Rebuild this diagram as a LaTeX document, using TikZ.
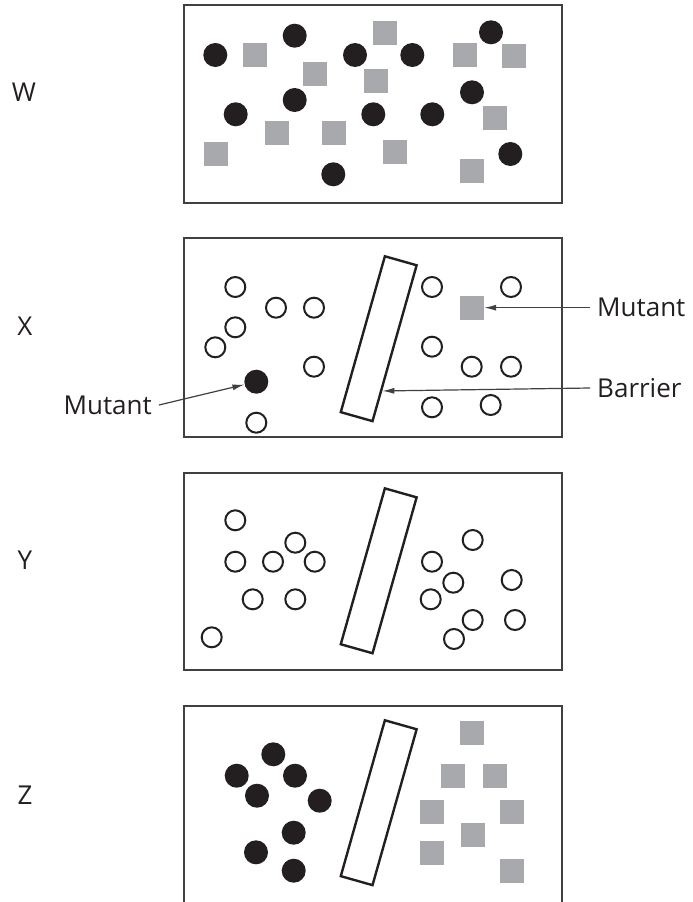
\documentclass[tikz,border=0pt]{standalone}
\usepackage{fontspec}
\setmainfont{Open Sans}
\usetikzlibrary{arrows.meta,calc}
\definecolor{ink}{HTML}{231F20}
\definecolor{tilegrey}{HTML}{A7A9AC}
\definecolor{edgegrey}{HTML}{404040}

\begin{document}
\begin{tikzpicture}[x=1pt,y=-1pt,
  panel/.style={draw=edgegrey, line width=1.4pt},
  blob/.style={circle, fill=ink, minimum size=24pt, inner sep=0pt},
  ring/.style={circle, draw=ink, line width=2pt, minimum size=20pt, inner sep=0pt},
  tile/.style={rectangle, fill=tilegrey, minimum size=24pt, inner sep=0pt},
  wall/.style={rectangle, draw=ink, line width=2.4pt, minimum width=33pt, minimum height=162pt, inner sep=0pt, rotate=-15.8},
  tag/.style={font=\fontsize{26}{30}\selectfont, text=ink, inner xsep=7pt, inner ysep=0pt},
  pointer/.style={draw=edgegrey, line width=1.2pt, -{Latex[length=12pt,width=6pt]}}]
\clip (0,0) rectangle (693,902);

\node[tag] (lW) at (24,92) {W};
\node[tag] (lX) at (25,326) {X};
\node[tag] (lY) at (25,560) {Y};
\node[tag] (lZ) at (25,795) {Z};

% W
\draw[panel] (184,5) rectangle (562,203);
\node[blob] (bW1) at (215.3,55) {};
\node[blob] (bW2) at (294.7,35.7) {};
\node[blob] (bW3) at (355,55) {};
\node[blob] (bW4) at (412.3,55) {};
\node[blob] (bW5) at (491,32.3) {};
\node[blob] (bW6) at (235.7,114.3) {};
\node[blob] (bW7) at (294.7,100) {};
\node[blob] (bW8) at (373.3,114.3) {};
\node[blob] (bW9) at (432.3,114.3) {};
\node[blob] (bW10) at (472,92.3) {};
\node[blob] (bW11) at (510.3,154) {};
\node[blob] (bW12) at (333.3,174.3) {};
\node[tile] (sW1) at (255,55) {};
\node[tile] (sW2) at (385,32.7) {};
\node[tile] (sW3) at (315,74) {};
\node[tile] (sW4) at (376,81) {};
\node[tile] (sW5) at (465,55) {};
\node[tile] (sW6) at (514,56) {};
\node[tile] (sW7) at (277,133) {};
\node[tile] (sW8) at (334,133) {};
\node[tile] (sW9) at (216,154) {};
\node[tile] (sW10) at (395,152) {};
\node[tile] (sW11) at (495,118) {};
\node[tile] (sW12) at (472,171) {};

% X
\draw[panel] (184,238) rectangle (562,437);
\node[ring] (rX1) at (235.3,287) {};
\node[ring] (rX2) at (276,307.7) {};
\node[ring] (rX3) at (314,307.7) {};
\node[ring] (rX4) at (235.3,327.3) {};
\node[ring] (rX5) at (215.3,347.3) {};
\node[ring] (rX6) at (314,366.7) {};
\node[ring] (rX7) at (256.3,422.7) {};
\node[ring] (rX8) at (432,287) {};
\node[ring] (rX9) at (511,287) {};
\node[ring] (rX10) at (432,346.7) {};
\node[ring] (rX11) at (471.7,366.7) {};
\node[ring] (rX12) at (511,366.7) {};
\node[ring] (rX13) at (432,407.3) {};
\node[ring] (rX14) at (490.7,405) {};
\node[blob] (bX) at (256.3,381.7) {};
\node[tile] (sX) at (472,307.7) {};
\node[wall] (barX) at (378.7,338.7) {};
\coordinate (barTip) at ($(barX.south east)!0.2!(barX.north east)$);
\node[tag, anchor=west] (mutR) at (590,307.7) {Mutant};
\node[tag, anchor=west] (barL) at (590,388) {Barrier};
\node[tag, anchor=east] (mutL) at (159,405) {Mutant};
\draw[pointer] (mutR.west) -- (sX);
\draw[pointer] (barL.west) -- (barTip);
\draw[pointer] (mutL.east) -- (bX);

% Y
\draw[panel] (184,473) rectangle (562,670);
\node[ring] (rY1) at (235.3,520.3) {};
\node[ring] (rY2) at (235.3,561.7) {};
\node[ring] (rY3) at (273,561.7) {};
\node[ring] (rY4) at (295.3,542.7) {};
\node[ring] (rY5) at (314.7,561.7) {};
\node[ring] (rY6) at (252.7,599.3) {};
\node[ring] (rY7) at (295.3,599.3) {};
\node[ring] (rY8) at (211.7,637.3) {};
\node[ring] (rY9) at (472.7,540) {};
\node[ring] (rY10) at (432,561.7) {};
\node[ring] (rY11) at (453.3,582.7) {};
\node[ring] (rY12) at (430.7,599.3) {};
\node[ring] (rY13) at (511.7,580) {};
\node[ring] (rY14) at (472.7,620) {};
\node[ring] (rY15) at (515,620) {};
\node[ring] (rY16) at (454,639) {};
\node[wall] (barY) at (378.7,570.8) {};

% Z
\draw[panel] (184,706) rectangle (562,920);
\node[blob] (bZ1) at (273.3,754.3) {};
\node[blob] (bZ2) at (236.7,775.7) {};
\node[blob] (bZ3) at (295,775.7) {};
\node[blob] (bZ4) at (257,795.7) {};
\node[blob] (bZ5) at (319.7,800.7) {};
\node[blob] (bZ6) at (293.7,832.7) {};
\node[blob] (bZ7) at (256,852.3) {};
\node[blob] (bZ8) at (293.7,870.7) {};
\node[tile] (sZ1) at (472,732.7) {};
\node[tile] (sZ2) at (452.7,776) {};
\node[tile] (sZ3) at (495,776) {};
\node[tile] (sZ4) at (432,811.7) {};
\node[tile] (sZ5) at (511.7,811.7) {};
\node[tile] (sZ6) at (473,835) {};
\node[tile] (sZ7) at (432,852.7) {};
\node[tile] (sZ8) at (511.7,870.7) {};
\node[wall] (barZ) at (378.7,802.7) {};
\end{tikzpicture}
\end{document}
